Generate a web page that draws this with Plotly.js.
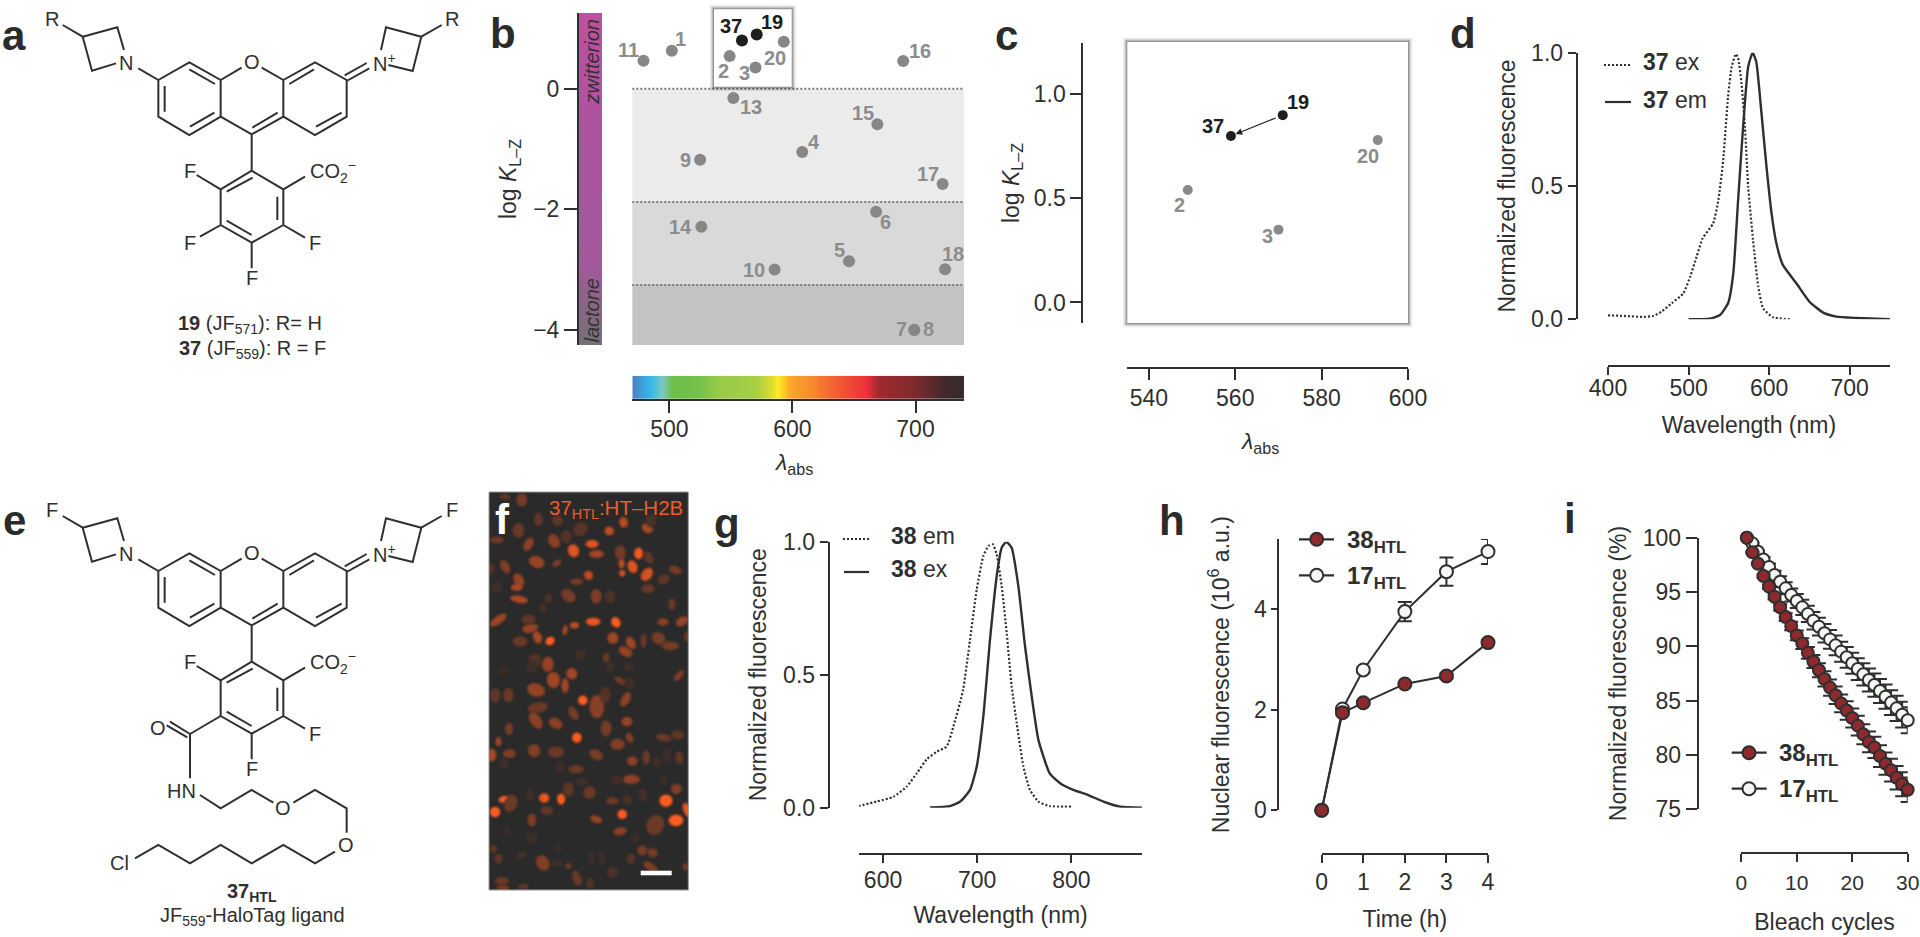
<!DOCTYPE html>
<html><head><meta charset="utf-8">
<script src="https://cdn.plot.ly/plotly-3.0.1.min.js"></script>
<style>html,body{margin:0;padding:0;background:#fff;overflow:hidden}#g{width:1920px;height:937px}</style>
</head><body><div id="g"></div>
<script>
// ---------- DATA ----------
const dyeLabels = ['11','1','37','19','20','2','3','16','13','15','4','9','17','6','14','5','10','18','7','8'];
const dyeLambda = [479,502,559,571,593,549,570,690,552,669,608,525,722,668,526,646,585.5,724,699,699];
const dyeLogK   = [0.465,0.63,0.8,0.9,0.78,0.54,0.35,0.46,-0.155,-0.59,-1.05,-1.18,-1.58,-2.04,-2.29,-2.86,-3.0,-2.995,-4.0,-4.0];
const bandEdges = [0,-1.88,-3.255,-4.25];
const bandColors = ['#ebebeb','#d9d9d9','#c4c4c4'];

const zoomLabels = ['37','19','20','2','3'];
const zoomLambda = [559,571,593,549,570];
const zoomLogK   = [0.8,0.9,0.78,0.54,0.35];

const ex37x = [400,420,444,456,466.5,479,493.5,502,510,517.5,530.5,537,543,549,553.5,558.7,561.5,565.7,570,574,580,586.5,592.5,605,625.6];
const ex37y = [.015,.0125,.009,.0125,.029,.06,.0975,.16,.235,.304,.36,.4475,.5975,.835,.9475,.995,.98,.885,.72,.4975,.2975,.1225,.041,.0075,0];
const em37x = [500,526.5,539,549,555.5,561.5,568,574,579.5,584,590.5,596.7,603,609,617,633.8,650,667,683.5,708,750];
const em37y = [0,.0025,.016,.06,.1725,.4475,.735,.9475,1,.966,.7725,.5725,.3975,.285,.204,.135,.066,.025,.01,.005,0];

const em38x = [574,593,611,625,636,646.4,657,667.6,674.7,685,692.4,699.5,706.5,712,716.5,720.7,726,731.3,736.6,742,749,756,765,777,800];
const em38y = [.006,.023,.041,.079,.13,.182,.21,.23,.305,.443,.632,.82,.946,.984,.99,.952,.833,.657,.456,.318,.155,.067,.023,.006,.004];
const ex38x = [650,671,682,692.4,699.5,706.5,713.6,720.7,726,731,736.6,743.7,750.8,757.9,765,777,788,802,816,834,851.7,875];
const ex38y = [.001,.006,.023,.067,.155,.343,.632,.87,.977,.999,.977,.833,.607,.418,.255,.129,.092,.067,.05,.023,.004,0];

const timeH = [0,0.5,1,2,3,4];
const htl38 = [0,1.944,2.14,2.515,2.674,3.338];
const err38 = [0,.03,.03,.04,.05,.05];
const htl17 = [0,2.017,2.794,3.955,4.75,5.15];
const err17 = [0,.03,.05,.19,.28,.25];

const cycles = [1,2,3,4,5,6,7,8,9,10,11,12,13,14,15,16,17,18,19,20,21,22,23,24,25,26,27,28,29,30];
const bleach38 = [100,98.65,97.6,96.47,95.5,94.57,93.6,92.7,91.87,91.0,90.25,89.4,88.6,87.8,87.0,86.2,85.5,84.75,84.1,83.4,82.7,81.9,81.2,80.7,79.9,79.2,78.6,77.9,77.3,76.8];
const bleachErr38 = [0,.05,.1,.15,.2,.25,.3,.35,.4,.45,.5,.55,.6,.65,.7,.75,.8,.82,.85,.87,.9,.92,.95,.97,1,1.02,1.05,1.08,1.1,1.13];
const bleach17 = [100,99.48,98.7,98.0,97.3,96.56,95.95,95.34,94.72,94.17,93.59,92.98,92.36,91.81,91.2,90.64,90.09,89.51,88.99,88.44,87.91,87.42,86.9,86.44,85.89,85.37,84.82,84.29,83.71,83.19];
const bleachErr17 = [0,.05,.1,.2,.3,.4,.5,.55,.6,.65,.7,.75,.8,.82,.85,.87,.9,.92,.95,.97,1,1.02,1.05,1.07,1.1,1.12,1.14,1.16,1.18,1.2];

// ---------- PAGE GEOMETRY (pixels) ----------
const W = 1920, H = 937;
const xf = x => x / W, yf = y => 1 - y / H;
const INK = '#2f2f2f', FONT = '"Liberation Sans", Arial, sans-serif', GREY = '#8c8c8c';
const dom = (a, b) => [a / W, b / W], vdom = (t, b) => [1 - b / H, 1 - t / H];

// label placement for the dye numbers, pixel offsets from each point [dx, dy up]
const labelOffsetsB = {'11':[-15,10.7],'1':[9,11.7],'37':[-10.7,14],'19':[15.7,12],'20':[-9.3,-16],'2':[-5.7,-14.7],'3':[-11.3,-5],'16':[17.3,10.3],'13':[17.7,-8.7],'15':[-14.7,11],'4':[12,10],'9':[-14.3,0],'17':[-15,9.7],'6':[9.7,-10],'14':[-21.3,0],'5':[-9.3,11],'10':[-21,0],'18':[7.7,15],'7':[-12.3,1],'8':[14,1]};
const labelOffsetsC = {'37':[-18.3,10.3],'19':[15.3,13],'20':[-10,-16.3],'2':[-8.7,-15.3],'3':[-11.3,-6.7]};
const shadowAlpha = [.2,.14,.09,.05,.02];

const shapes = [], annotations = [];
const T = (x, y, text, o = {}) => annotations.push({xref:'paper', yref:'paper', x:xf(x), y:yf(y), text, showarrow:false,
  xanchor:o.xa||'center', yanchor:'middle', textangle:o.rot||0,
  font:{family:FONT, size:o.size||20, color:o.color||INK}});

function drawLines(polys, k, ox, oy, color, width) {
  let d = '';
  polys.forEach(p => { for (let i = 0; i < p.length; i += 2) {
      d += (i ? 'L' : 'M') + xf(ox + p[i] / k) + ' ' + yf(oy + p[i + 1] / k) + ' '; } });
  shapes.push({type:'path', xref:'paper', yref:'paper', path:d, line:{color, width}, fillcolor:'rgba(0,0,0,0)', layer:'below'});
}
function shadowBox(x0, y0, x1, y1) {
  for (let s = shadowAlpha.length; s >= 1; s--)
    shapes.push({type:'rect', xref:'paper', yref:'paper', x0:xf(x0 - s), x1:xf(x1 + s), y0:yf(y1 + s), y1:yf(y0 - s),
      fillcolor:'rgba(0,0,0,' + shadowAlpha[s - 1] + ')', line:{width:0}, layer:'below'});
  shapes.push({type:'rect', xref:'paper', yref:'paper', x0:xf(x0), x1:xf(x1), y0:yf(y1), y1:yf(y0), fillcolor:'#fff', line:{width:0}, layer:'below'});
}

// ---------- PANEL LETTERS ----------
[['a',14,35],['b',503,34],['c',1006,35],['d',1463,34],['e',14,520],['g',727,523],['h',1172,520],['i',1570,518]]
  .forEach(l => T(l[1], l[2], '<b>' + l[0] + '</b>', {size:42, color:'#2b2b2b'}));

// ---------- STRUCTURES a, e (3x crop coordinates) ----------
const xanthene = [
 [248,110,352,82,372,150],[348,190,276,212,248,110],[188,75,248,110],[415,205,475,240],
 [475,240,568,187,662,240,662,350,568,405,475,350,475,240],[494,258,494,335],[568,208,645,252],[570,380,643,338],
 [662,240,725,203],[785,203,850,240],[662,350,755,403,850,350,850,240],[757,383,833,338],
 [850,240,945,187,1040,240,1040,350,945,405,850,350],[868,252,942,208],[948,380,1025,338],
 [1040,243,1108,205],[1034,226,1100,189],[1143,150,1158,82,1264,110,1238,213,1165,195],[1264,110,1325,75],
 [755,403,755,512],[662,568,755,512,850,568,850,675,755,728,662,675,662,568],[758,533,680,575],[832,590,832,660],[755,705,680,662],
 [590,525,662,568],[850,568,915,530],[850,675,915,713],[755,728,755,805]];
drawLines(xanthene.concat([[662,675,600,710]]), 3, 0, 0, INK, 2);
drawLines(xanthene, 3, 0, 491, INK, 2);
drawLines([[662,675,570,729],[570,729,510,692],[562,739,500,703],[570,729,570,862],[600,912,662,952,755,897,820,935],
  [880,935,945,897,1040,952,1040,1025],[1005,1082,945,1117,850,1062,755,1117,662,1062,570,1117,475,1062,405,1102]], 3, 0, 491, INK, 2);

function core(oy, sub1, sub2) {
  const at = (zx, zy, t, o) => T(zx / 3, oy + zy / 3, t, o);
  at(155,58,sub1); at(1357,58,sub2); at(378,188,'N'); at(755,187,'O'); at(1113,187,'N<sup>+</sup>',{xa:'left'});
  at(570,513,'F'); at(925,515,'CO<sub>2</sub><sup>−</sup>',{xa:'left'}); at(945,730,'F'); at(757,835,'F');
}
core(0,'R','R'); T(570/3,730/3,'F');
T(250,324,'<b>19</b> (JF<sub>571</sub>): R= H'); T(252,349,'<b>37</b> (JF<sub>559</sub>): R = F');
core(491,'F','F');
[[473,710,'O'],[545,932-33,'HN'],[850,985-33,'O'],[1037,1095-33,'O'],[358,1150-33,'Cl']].forEach(a => T(a[0]/3, 491 + a[1]/3, a[2]));
T(252,892,'<b>37<sub>HTL</sub></b>'); T(252,916,'JF<sub>559</sub>-HaloTag ligand');

// ---------- PANEL b ----------
const bX0 = 632.3, bX1 = 964;
bandColors.forEach((c, i) => {
  shapes.push({type:'rect', xref:'paper', yref:'y', x0:xf(bX0), x1:xf(bX1), y0:bandEdges[i], y1:bandEdges[i+1], fillcolor:c, line:{width:0}, layer:'below'});
});
bandEdges.slice(0,3).forEach(v => shapes.push({type:'line', xref:'paper', yref:'y', x0:xf(bX0), x1:xf(bX1), y0:v, y1:v, line:{color:'#7a7a7a', width:2, dash:'2px,2px'}, layer:'below'}));
shadowBox(714, 9.3, 791.7, 86.7);
dyeLabels.forEach((l, i) => { const o = labelOffsetsB[l], dark = (l==='37'||l==='19');
  annotations.push({xref:'x', yref:'y', x:dyeLambda[i], y:dyeLogK[i], xshift:o[0], yshift:o[1], text:'<b>'+l+'</b>', showarrow:false,
    font:{family:FONT, size:20, color:dark?'#1c1c1c':GREY}});
});
T(591.5,62,'<i>zwitterion</i>',{rot:-90, size:20, color:'#333'}); T(591.5,310,'<i>lactone</i>',{rot:-90, size:20, color:'#333'});
T(793,463,'<i>λ</i><sub>abs</sub>',{size:23});

// ---------- PANEL c ----------
shadowBox(1127.3, 42, 1408, 323);
zoomLabels.forEach((l, i) => { const o = labelOffsetsC[l], dark = (l==='37'||l==='19');
  annotations.push({xref:'x3', yref:'y3', x:zoomLambda[i], y:zoomLogK[i], xshift:o[0], yshift:o[1], text:'<b>'+l+'</b>', showarrow:false,
    font:{family:FONT, size:20, color:dark?'#1c1c1c':GREY}});
});
annotations.push({xref:'x3', yref:'y3', axref:'x3', ayref:'y3', x:zoomLambda[0], y:zoomLogK[0], ax:zoomLambda[1], ay:zoomLogK[1], text:'', showarrow:true,
  arrowhead:2, arrowsize:1.1, arrowwidth:1.2, arrowcolor:'#222', standoff:5, startstandoff:6});
T(1259,442,'<i>λ</i><sub>abs</sub>',{size:23});

// ---------- LEGENDS ----------
function lineKey(x0, x1, y, dash) { shapes.push({type:'line', xref:'paper', yref:'paper', x0:xf(x0), x1:xf(x1), y0:yf(y), y1:yf(y), line:{color:INK, width:2.2, dash}}); }
function dotKey(cx, cy, r, fill) { shapes.push({type:'circle', xref:'paper', yref:'paper', x0:xf(cx-r), x1:xf(cx+r), y0:yf(cy+r), y1:yf(cy-r), fillcolor:fill, line:{color:INK, width:2}}); }
lineKey(1604,1630,65,'2px,2px'); lineKey(1605,1631,102,'solid');
T(1641,62,'<b>37</b> ex',{xa:'left',size:23}); T(1641,100,'<b>37</b> em',{xa:'left',size:23});
lineKey(843,869,539,'2px,2px'); lineKey(844,869,572,'solid');
T(889,536,'<b>38</b> em',{xa:'left',size:23}); T(889,569,'<b>38</b> ex',{xa:'left',size:23});
const RED = '#8e2a2e', PALE = '#f5f7f5';
lineKey(1299,1334,539.3,'solid'); dotKey(1316.7,539.3,6.5,RED); lineKey(1299,1334,575.3,'solid'); dotKey(1316.7,575.3,6.5,PALE);
T(1345,541,'<b>38<sub>HTL</sub></b>',{xa:'left',size:24}); T(1345,577,'<b>17<sub>HTL</sub></b>',{xa:'left',size:24});
lineKey(1731.7,1766.7,752.7,'solid'); dotKey(1749,752.7,6.5,RED); lineKey(1731.7,1766.7,788.7,'solid'); dotKey(1749,788.7,6.5,PALE);
T(1777,754,'<b>38<sub>HTL</sub></b>',{xa:'left',size:24}); T(1777,790,'<b>17<sub>HTL</sub></b>',{xa:'left',size:24});

// ---------- PANEL f micrograph ----------
const nuclei = [[45,996,14,14,0,1],[72,958,15,9,-10,1],[192,954,14,13,0,.9],[243,957,11,15,0,1],[557,962,18,17,0,1],[587,1021,20,16,0,1],[426,1003,13,13,0,1],[290,773,13,14,0,1],[308,661,13,13,0,1],[407,427,12,15,-30,1],[210,483,13,11,-30,1],[339,425,20,11,0,.9],[475,220,12,16,0,.95],[280,212,15,18,-20,.85],[336,192,18,11,0,.85],[387,153,13,12,20,.7],[430,127,12,15,-10,.65],[501,145,16,12,30,.6],[500,283,14,20,40,.8],[457,260,13,18,-20,.85],[424,250,8,14,0,.7],[426,280,8,9,0,.8],[325,286,12,13,-30,.7],[349,222,20,11,0,.55],[620,990,10,20,-20,.9],[170,246,22,16,20,.5],[116,300,13,20,-30,.5],[110,322,16,10,0,.6],[117,358,25,10,10,.6],[145,193,12,20,30,.45],[222,183,15,20,-30,.45],[75,260,12,20,-30,.4],[230,250,13,8,-30,.4],[290,305,18,9,0,.35],[348,349,15,20,0,.4],[265,347,22,16,40,.35],[55,420,26,11,-35,.55],[150,445,22,12,-10,.5],[172,472,12,17,-20,.6],[120,484,20,14,0,.3],[145,418,20,13,0,.25],[255,450,7,13,10,.6],[283,436,12,9,0,.7],[398,474,15,16,0,.55],[452,489,12,18,-30,.55],[436,515,20,13,30,.5],[490,483,8,20,0,.3],[535,475,20,16,30,.35],[570,498,24,12,0,.35],[548,426,16,10,0,.45],[605,424,18,12,-30,.5],[620,470,8,14,0,.3],[203,553,16,21,0,.5],[275,581,15,16,-30,.55],[220,600,18,22,0,.55],[255,617,10,20,0,.55],[168,630,25,18,20,.5],[165,540,18,18,0,.2],[378,533,9,14,0,.3],[420,602,18,8,30,.35],[596,587,9,18,40,.4],[45,646,14,20,0,.25],[85,645,14,20,0,.3],[436,658,12,22,30,.45],[350,680,20,32,0,.45],[375,645,15,22,0,.2],[173,683,28,15,-10,.3],[280,700,12,20,-30,.35],[167,722,15,25,-35,.45],[227,730,20,14,30,.45],[440,725,15,13,0,.5],[378,745,15,22,0,.35],[87,747,11,17,0,.35],[55,785,8,12,0,.55],[448,773,10,15,-20,.4],[412,793,20,15,0,.4],[550,773,22,10,10,.3],[592,765,18,13,0,.25],[162,812,17,18,-20,.4],[228,816,22,15,0,.3],[88,821,18,12,0,.4],[35,825,12,18,0,.6],[348,824,20,14,30,.35],[498,832,10,20,0,.3],[597,833,11,18,0,.25],[456,843,15,13,0,.45],[288,868,22,11,0,.3],[453,898,24,13,0,.45],[328,938,17,18,20,.3],[265,928,15,20,0,.25],[397,963,18,10,0,.3],[92,970,18,25,20,.3],[588,927,15,14,0,.4],[200,992,18,12,0,.25],[155,1020,12,17,0,.4],[348,1018,17,10,20,.5],[420,1054,18,11,-10,.45],[525,1035,24,28,30,.3],[517,1118,15,12,30,.35],[486,1111,14,14,0,.35],[188,1149,18,22,-30,.4],[55,1136,12,13,0,.25],[40,1107,11,10,0,.25],[452,1136,12,15,0,.2],[397,1178,16,16,0,.15],[290,1195,12,22,-20,.3],[265,1158,9,8,0,.3],[330,1210,10,15,0,.2],[65,1203,20,11,0,.3],[510,1160,22,10,30,.4],[130,1220,15,8,0,.25],[68,1225,18,9,0,.35],[615,1160,7,10,0,.35],[125,60,15,18,0,.35],[75,50,15,8,0,.25],[175,118,12,18,0,.25],[232,122,15,14,0,.25],[115,152,16,20,0,.3],[50,180,20,10,0,.3],[258,170,15,18,0,.2],[300,148,22,18,-30,.2],[420,218,15,20,0,.35],[505,233,12,18,-30,.25],[585,270,18,11,20,.35],[550,298,18,12,-30,.25],[503,326,18,12,0,.3],[575,373,10,16,0,.3],[390,350,15,18,0,.15],[205,355,11,14,0,.15],[188,383,11,13,0,.12],[512,122,15,18,0,.15],[50,322,15,15,0,.1],[30,265,12,15,0,.2],[155,560,16,18,0,.1],[70,570,15,15,0,.06],[300,525,16,14,0,.1],[445,560,15,12,0,.1],[390,560,12,16,0,.1],[450,610,14,18,0,.1],[240,860,12,16,0,.1],[530,845,12,16,0,.1],[560,825,15,20,0,.08],[305,905,18,12,0,.1],[410,900,18,14,0,.1],[488,945,12,18,0,.12],[150,945,10,18,0,.1],[440,960,15,14,0,.12],[550,900,10,16,0,.08],[155,1075,18,15,0,.08],[80,1050,12,15,0,.06],[235,1105,14,12,0,.06],[125,1125,15,9,-20,.12],[335,1135,10,18,0,.08],[365,1135,10,18,0,.08],[230,1150,15,10,0,.1],[465,1075,15,15,0,.06],[70,850,14,14,0,.1]];
function micrograph() {
  const c = document.createElement('canvas'); c.width = 199; c.height = 398;
  const g = c.getContext('2d'); g.fillStyle = '#2a2a2a'; g.fillRect(0,0,199,398);
  g.filter = 'blur(0.8px)';
  nuclei.forEach(n => { const b = Math.min(1, n[5]);
    g.fillStyle = `rgb(${Math.round(42+(255-42)*b)},${Math.round(42+(92-42)*b)},${Math.round(42+(32-42)*b)})`;
    g.beginPath(); g.ellipse((n[0]-27)/3,(n[1]-36)/3,n[2]*1.1/3,n[3]*1.1/3,n[4]*Math.PI/180,0,2*Math.PI); g.fill(); });
  return c.toDataURL('image/png');
}
shapes.push({type:'rect', xref:'paper', yref:'paper', x0:xf(489), x1:xf(688.3), y0:yf(890), y1:yf(492), fillcolor:'rgba(0,0,0,0)', line:{color:'#999', width:1}, layer:'above'});
shapes.push({type:'rect', xref:'paper', yref:'paper', x0:xf(640.7), x1:xf(671.7), y0:yf(875.3), y1:yf(870.7), fillcolor:'#fff', line:{width:0}, layer:'above'});
T(546.5,509,'37<sub>HTL</sub>:HT–H2B',{xa:'left',size:20.5,color:'#f05a28'});
T(502,519,'<b>f</b>',{size:42,color:'#fff'});

// ---------- TRACES ----------
const spectrumStops = [[0,'#4a82c4'],[.053,'#35b8ea'],[.09,'#7cc8c0'],[.12,'#6fbe4a'],[.195,'#74c04a'],[.265,'#9aca48'],[.375,'#a8cf45'],[.425,'#e6e02c'],[.436,'#fbee23'],[.476,'#f9a72b'],[.547,'#f6872d'],[.62,'#f15a33'],[.707,'#ed2f3a'],[.737,'#a32a2f'],[.85,'#7f2a2e'],[.95,'#3d2a2a'],[1,'#392b2b']];
const magentaStops = [[0,'#75707a'],[.13,'#8a6585'],[.25,'#a4599d'],[.6,'#ab54a0'],[1,'#bf4f9f']];
const spectrumX = [], spectrumZ = []; for (let x = 469; x <= 741; x += 1) { spectrumX.push(x); spectrumZ.push((x-469.9)/269.5); }
const barY = [], barZ = []; for (let y = -4.3; y <= 1.3; y += 0.05) { barY.push(y); barZ.push([(y+4.25)/5.505,(y+4.25)/5.505]); }

const SPL = {shape:'spline', smoothing:0.5};
const traces = [
 {type:'heatmap', x:spectrumX, y:[0,1], z:[spectrumZ,spectrumZ], xaxis:'x', yaxis:'y2', colorscale:spectrumStops, zmin:0, zmax:1, zsmooth:'best', showscale:false, hoverinfo:'skip', name:'λabs scale'},
 {type:'heatmap', x:[0,1], y:barY, z:barZ, xaxis:'x2', yaxis:'y', colorscale:magentaStops, zmin:0, zmax:1, zsmooth:'best', showscale:false, hoverinfo:'skip', name:'log K scale'},
 {type:'scatter', mode:'markers', x:dyeLambda, y:dyeLogK, text:dyeLabels, xaxis:'x', yaxis:'y', cliponaxis:false, name:'dyes',
  marker:{size:12, color:dyeLabels.map(l => (l==='37'||l==='19') ? '#1e1e1e' : '#878787')}},
 {type:'scatter', mode:'markers', x:zoomLambda, y:zoomLogK, text:zoomLabels, xaxis:'x3', yaxis:'y3', name:'dyes (zoom)',
  marker:{size:10, color:zoomLabels.map(l => (l==='37'||l==='19') ? '#1e1e1e' : '#8a8a8a')}},
 {type:'scatter', mode:'lines', x:ex37x, y:ex37y, xaxis:'x4', yaxis:'y4', cliponaxis:false, name:'37 ex', line:Object.assign({color:INK, width:2.2, dash:'2px,2px'},SPL)},
 {type:'scatter', mode:'lines', x:em37x, y:em37y, xaxis:'x4', yaxis:'y4', cliponaxis:false, name:'37 em', line:Object.assign({color:INK, width:2.4},SPL)},
 {type:'scatter', mode:'lines', x:em38x, y:em38y, xaxis:'x5', yaxis:'y5', cliponaxis:false, name:'38 em', line:Object.assign({color:INK, width:2.2, dash:'2px,2px'},SPL)},
 {type:'scatter', mode:'lines', x:ex38x, y:ex38y, xaxis:'x5', yaxis:'y5', cliponaxis:false, name:'38 ex', line:Object.assign({color:INK, width:2.4},SPL)},
 {type:'scatter', mode:'lines+markers', x:timeH, y:htl17, error_y:{type:'data', array:err17, color:INK, thickness:2, width:7}, xaxis:'x6', yaxis:'y6', cliponaxis:false, name:'17HTL', line:{color:INK, width:2}, marker:{size:13, color:PALE, line:{color:INK, width:2}}},
 {type:'scatter', mode:'lines+markers', x:timeH, y:htl38, error_y:{type:'data', array:err38, color:INK, thickness:2, width:7}, xaxis:'x6', yaxis:'y6', cliponaxis:false, name:'38HTL', line:{color:INK, width:2}, marker:{size:13, color:RED, line:{color:INK, width:2}}},
 {type:'scatter', mode:'lines+markers', x:cycles, y:bleach17, error_y:{type:'data', array:bleachErr17, color:INK, thickness:2, width:7, symmetric:true}, xaxis:'x7', yaxis:'y7', cliponaxis:false, name:'17HTL', line:{color:INK, width:2}, marker:{size:12, color:PALE, line:{color:INK, width:2}}},
 {type:'scatter', mode:'lines+markers', x:cycles, y:bleach38, error_y:{type:'data', array:bleachErr38, color:INK, thickness:2, width:7, symmetric:true}, xaxis:'x7', yaxis:'y7', cliponaxis:false, name:'38HTL', line:{color:INK, width:2}, marker:{size:12, color:RED, line:{color:INK, width:2}}}
];

// ---------- AXES ----------
const axisBase = {showgrid:false, zeroline:false, showline:true, linecolor:INK, linewidth:2, ticks:'outside', tickcolor:INK, tickwidth:2,
  tickfont:{family:FONT, size:23, color:INK}, automargin:false, fixedrange:true};
const ttl = (text, standoff) => ({text, standoff, font:{family:FONT, size:23, color:INK}});
const xAxisFree = (a, b, rng, y, vals, title, so, len, lab) => Object.assign({}, axisBase, {domain:dom(a,b), range:rng, anchor:'free', position:yf(y), side:'bottom', tickmode:'array', tickvals:vals, ticklen:len||9, ticklabelstandoff:lab||0}, title ? {title:ttl(title,so)} : {});
const yAxisFree = (t, bt, rng, x, vals, fmt, title, so, len) => Object.assign({}, axisBase, {domain:vdom(t,bt), range:rng, anchor:'free', position:xf(x), side:'left', tickmode:'array', tickvals:vals, tickformat:fmt, ticklen:len||9, title:ttl(title,so)});

const layout = {
  width:W, height:H, autosize:false, margin:{l:0,r:0,t:0,b:0,pad:0}, showlegend:false, paper_bgcolor:'#fff', plot_bgcolor:'rgba(0,0,0,0)', hovermode:false,
  font:{family:FONT, color:INK},
  xaxis:Object.assign({}, axisBase, {domain:dom(632.3,964), range:[469.9,739.4], anchor:'y2', tickmode:'array', tickvals:[500,600,700], ticklen:12, ticklabelstandoff:-4}),
  yaxis:Object.assign({}, axisBase, {domain:vdom(13,345), range:[-4.25,1.255], anchor:'x2', side:'left', tickmode:'array', tickvals:[0,-2,-4], ticklen:13, title:ttl('log <i>K</i><sub>L–Z</sub>',10)}),
  xaxis2:{domain:dom(579,602.3), range:[0,1], visible:false, anchor:'y', fixedrange:true},
  yaxis2:{domain:vdom(375.7,399), range:[0,1], visible:false, anchor:'x', fixedrange:true},
  xaxis3:xAxisFree(1127.3,1408,[535,600],368.3,[540,560,580,600],'',0,11,-2),
  yaxis3:yAxisFree(42.7,323.3,[-0.1,1.248],1082.3,[0,0.5,1],'.1f','log <i>K</i><sub>L–Z</sub>',7,11),
  xaxis4:xAxisFree(1608,1890,[400,750],365.7,[400,500,600,700],'Wavelength (nm)',16,8,-6),
  yaxis4:yAxisFree(52.7,319.3,[0,1],1576.7,[0,0.5,1],'.1f','Normalized fluorescence',8,8),
  xaxis5:xAxisFree(859.3,1142,[574.8,875],854,[600,700,800],'Wavelength (nm)',14,8,-3),
  yaxis5:yAxisFree(541.7,807.7,[0,1],828.7,[0,0.5,1],'.1f','Normalized fluorescence',9,8),
  xaxis6:xAxisFree(1321.7,1488,[0,4],854,[0,1,2,3,4],'Time (h)',16,8,-1),
  yaxis6:yAxisFree(539,810.3,[0,5.4],1278.3,[0,2,4],'','Nuclear fluorescence (10<sup>6</sup> a.u.)',17,6),
  xaxis7:Object.assign(xAxisFree(1741.3,1907.7,[0,30],853.3,[0,10,20,30],'Bleach cycles',20,8,2),{tickfont:{family:FONT,size:21,color:INK}}),
  yaxis7:yAxisFree(537.7,809.3,[75,100],1697.7,[75,80,85,90,95,100],'','Normalized fluorescence (%)',9,11),
  shapes, annotations,
  images:[{source:micrograph(), xref:'paper', yref:'paper', x:xf(489), y:yf(492), sizex:199.3/W, sizey:398/H, sizing:'stretch', xanchor:'left', yanchor:'top', layer:'below'}]
};
Plotly.newPlot('g', traces, layout, {staticPlot:true, displayModeBar:false});
</script></body></html>
